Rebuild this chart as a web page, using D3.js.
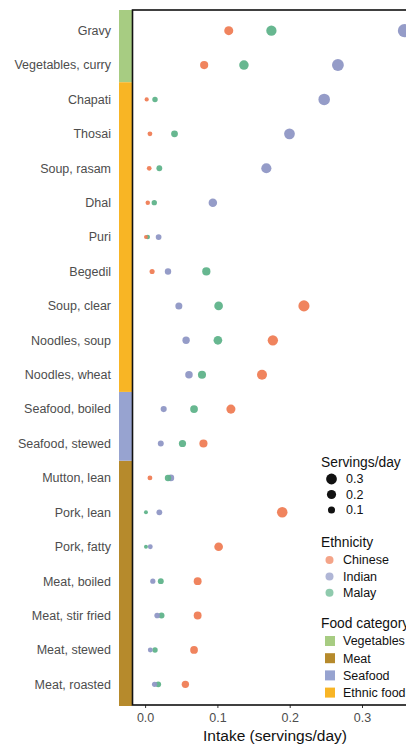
<!DOCTYPE html>
<html>
<head>
<meta charset="utf-8">
<script src="https://cdn.jsdelivr.net/npm/d3@7"></script>
<style>
  body { margin: 0; background: #fff; }
  text { font-family: "Liberation Sans", Arial, sans-serif; }
</style>
</head>
<body>
<div id="chart"></div>
<script>
// Foods from top to bottom, with their category
const foods = ["Gravy", "Vegetables, curry", "Chapati", "Thosai", "Soup, rasam", "Dhal", "Puri",
  "Begedil", "Soup, clear", "Noodles, soup", "Noodles, wheat", "Seafood, boiled", "Seafood, stewed",
  "Mutton, lean", "Pork, lean", "Pork, fatty", "Meat, boiled", "Meat, stir fried", "Meat, stewed", "Meat, roasted"];
const foodCategory = ["Vegetables", "Vegetables", "Ethnic food", "Ethnic food", "Ethnic food", "Ethnic food", "Ethnic food",
  "Ethnic food", "Ethnic food", "Ethnic food", "Ethnic food", "Seafood", "Seafood",
  "Meat", "Meat", "Meat", "Meat", "Meat", "Meat", "Meat"];

// Intake (servings/day) per ethnicity
const chinese = [0.115, 0.081, 0.0015, 0.006, 0.005, 0.003, 0.0005, 0.009, 0.219, 0.176, 0.161, 0.118, 0.080,
  0.006, 0.189, 0.101, 0.072, 0.072, 0.067, 0.055];
const indian = [0.358, 0.266, 0.247, 0.199, 0.167, 0.093, 0.018, 0.031, 0.046, 0.056, 0.060, 0.025, 0.021,
  0.035, 0.019, 0.0065, 0.010, 0.016, 0.0065, 0.0125];
const malay = [0.174, 0.136, 0.013, 0.040, 0.019, 0.012, 0.003, 0.084, 0.101, 0.100, 0.078, 0.067, 0.051,
  0.031, 0.0005, 0.0005, 0.021, 0.022, 0.013, 0.0175];

const ethnicities = ["Chinese", "Indian", "Malay"];
const categories = ["Vegetables", "Meat", "Seafood", "Ethnic food"];
const xTicks = [0.0, 0.1, 0.2, 0.3];
const sizeBreaks = [0.3, 0.2, 0.1];

const ethColor = {Chinese: "#ef7d55", Indian: "#8f97c5", Malay: "#5fb38a"};
const catColor = {"Vegetables": "#a7cc82", "Meat": "#b68a2c", "Seafood": "#97a3d0", "Ethnic food": "#f8b525"};

const width = 406, height = 746;
const panel = {left: 132.5, right: 418, top: 10, bottom: 705};

const svg = d3.select("#chart").append("svg")
    .attr("width", width)
    .attr("height", height);

const x = d3.scaleLinear().domain([0, 0.3]).range([145.6, 362.5]);
const y = d3.scalePoint().domain(foods).range([panel.top, panel.bottom]).padding(0.6);
const r = d3.scaleSqrt().domain([0, 0.36]).range([1.8, 6.6]);
const step = y.step();

// Category strip left of the panel
const stripData = categories.map(c => {
  const idx = foods.map((f, i) => i).filter(i => foodCategory[i] === c);
  const first = d3.min(idx), last = d3.max(idx);
  return {
    cat: c,
    y0: first === 0 ? panel.top : y(foods[first]) - step / 2,
    y1: last === foods.length - 1 ? panel.bottom + 1 : y(foods[last]) + step / 2
  };
});
svg.selectAll(".strip").data(stripData).enter().append("rect")
    .attr("x", 119).attr("width", 13)
    .attr("y", d => d.y0).attr("height", d => d.y1 - d.y0)
    .attr("fill", d => catColor[d.cat]);

// Y labels
svg.selectAll(".ylab").data(foods).enter().append("text")
    .attr("x", 111).attr("y", d => y(d)).attr("dy", "0.35em")
    .attr("text-anchor", "end").attr("font-size", 12.5).attr("fill", "#4d4d4d")
    .text(d => d);

// X axis ticks + labels
svg.selectAll(".xtick").data(xTicks).enter().append("line")
    .attr("x1", d => x(d)).attr("x2", d => x(d))
    .attr("y1", panel.bottom).attr("y2", panel.bottom + 3)
    .attr("stroke", "#333").attr("stroke-width", 1);
svg.selectAll(".xlab").data(xTicks).enter().append("text")
    .attr("x", d => x(d)).attr("y", 722)
    .attr("text-anchor", "middle").attr("font-size", 12.5).attr("fill", "#4d4d4d")
    .text(d => d3.format(".1f")(d));
svg.append("text")
    .attr("x", 275).attr("y", 741)
    .attr("text-anchor", "middle").attr("font-size", 15.5).attr("fill", "#111")
    .text("Intake (servings/day)");

// Points, one group per food
const points = [];
foods.forEach((f, i) => {
  points.push({food: f, eth: "Chinese", v: chinese[i]});
  points.push({food: f, eth: "Indian", v: indian[i]});
  points.push({food: f, eth: "Malay", v: malay[i]});
});
// draw larger first so small ones stay on top
points.sort((a, b) => b.v - a.v);
svg.selectAll(".pt").data(points).enter().append("circle")
    .attr("cx", d => x(d.v)).attr("cy", d => y(d.food))
    .attr("r", d => r(d.v))
    .attr("fill", d => ethColor[d.eth]).attr("fill-opacity", 0.95);

// Panel border
svg.append("rect")
    .attr("x", panel.left).attr("y", panel.top)
    .attr("width", panel.right - panel.left).attr("height", panel.bottom - panel.top)
    .attr("fill", "none").attr("stroke", "#111").attr("stroke-width", 1.6);

// Legends
const lg = svg.append("g").attr("font-size", 12.5);
lg.append("text").attr("x", 321).attr("y", 467).attr("fill", "#111").attr("font-size", 13.8).text("Servings/day");
sizeBreaks.forEach((s, i) => {
  const yy = 479 + i * 15.5;
  lg.append("circle").attr("cx", 331.5).attr("cy", yy).attr("r", r(s) - 0.8).attr("fill", "#111");
  lg.append("text").attr("x", 346).attr("y", yy).attr("dy", "0.35em").attr("fill", "#111").text(s.toFixed(1));
});

lg.append("text").attr("x", 321).attr("y", 547).attr("fill", "#111").attr("font-size", 13.8).text("Ethnicity");
ethnicities.forEach((e, i) => {
  const yy = 560 + i * 16.4;
  lg.append("circle").attr("cx", 329.5).attr("cy", yy).attr("r", 4)
      .attr("fill", ethColor[e]).attr("fill-opacity", 0.7);
  lg.append("text").attr("x", 343).attr("y", yy).attr("dy", "0.35em").attr("fill", "#111").text(e);
});

lg.append("text").attr("x", 321).attr("y", 628).attr("fill", "#111").attr("font-size", 13.8).text("Food category");
categories.forEach((c, i) => {
  const yy = 641 + i * 17.2;
  lg.append("rect").attr("x", 325).attr("y", yy - 5).attr("width", 10).attr("height", 10)
      .attr("fill", catColor[c]);
  lg.append("text").attr("x", 343).attr("y", yy).attr("dy", "0.35em").attr("fill", "#111").text(c);
});
</script>
</body>
</html>
